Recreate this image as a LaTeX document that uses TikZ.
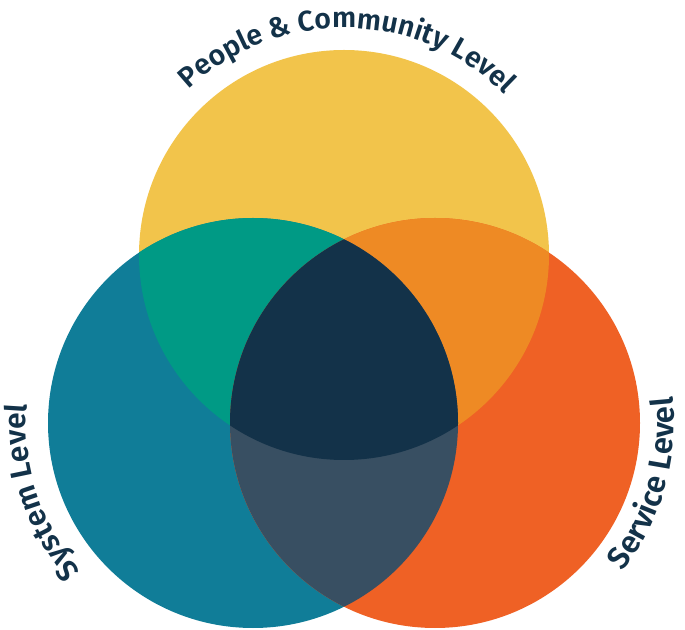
\documentclass[tikz,border=0pt]{standalone}
\usepackage{fontspec}
\setmainfont{Fira Sans}[BoldFont={Fira Sans SemiBold}]
\usetikzlibrary{decorations.text}
\definecolor{cyellow}{HTML}{F2C44B}
\definecolor{cblue}{HTML}{107D98}
\definecolor{corange}{HTML}{EF6125}
\definecolor{cteal}{HTML}{009A85}
\definecolor{camber}{HTML}{EE8A24}
\definecolor{cslate}{HTML}{384F62}
\definecolor{cnavy}{HTML}{133249}
\newcommand{\labfont}[1]{\fontsize{#1}{#1}\selectfont\bfseries\color{cnavy}}
\tikzset{
  curvedlabel/.style 2 args={decorate, decoration={text along path, text align=center, text={|\labfont{#1}|#2}}}
}
\begin{document}
\begin{tikzpicture}[x=1pt,y=1pt]
\useasboundingbox (0,0) rectangle (685,629);
\coordinate (cy) at (344,374);
\coordinate (cb) at (253,206);
\coordinate (co) at (435,206);
\def\R{205}
% base circles
\fill[cyellow] (cy) circle (\R);
\fill[cblue] (cb) circle (\R);
\fill[corange] (co) circle (\R);
% pairwise overlaps
\begin{scope}
  \clip (cy) circle (\R);
  \fill[cteal] (cb) circle (\R);
  \fill[camber] (co) circle (\R);
\end{scope}
\begin{scope}
  \clip (cb) circle (\R);
  \fill[cslate] (co) circle (\R);
\end{scope}
% triple overlap
\begin{scope}
  \clip (cy) circle (\R);
  \clip (cb) circle (\R);
  \fill[cnavy] (co) circle (\R);
\end{scope}
% curved labels
\path[curvedlabel={28.5}{People {\&} Community Level}]
  (cy) ++(139:227) arc[start angle=139, end angle=39, radius=227];
\path[curvedlabel={30}{System Level}]
  (cb) ++(240:227) arc[start angle=240, end angle=156, radius=227];
\path[curvedlabel={31}{Service Level}]
  (co) ++(-61:239) arc[start angle=-61, end angle=29, radius=239];
\end{tikzpicture}
\end{document}
